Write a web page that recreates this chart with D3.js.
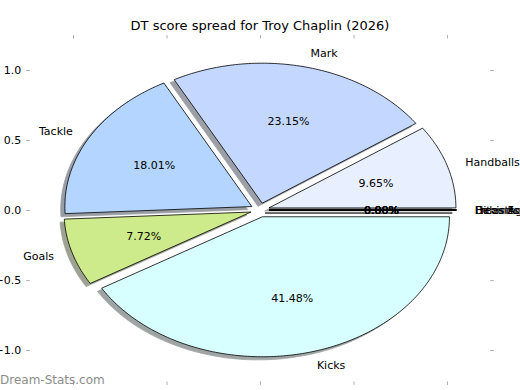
<!DOCTYPE html>
<html>
<head>
<meta charset="utf-8">
<script src="https://cdn.jsdelivr.net/npm/d3@7"></script>
<style>
  body { margin: 0; background: #fff; }
  svg { display: block; font-family: "DejaVu Sans", sans-serif; }
</style>
</head>
<body>
<div id="plot"></div>
<script>
// Chart values (percent of DT score).
var categories = ["Handballs", "Mark", "Tackle", "Goals", "Kicks", "Hitouts", "Behinds", "Frees For", "Frees Against"];
var values = [9.65, 23.15, 18.01, 7.72, 41.48, 0, 0, 0, 0];
var colors = ["#e8f0ff", "#c4d8ff", "#b3d5ff", "#cdeb8b", "#d8ffff", "#ffe0e0", "#ffe8c0", "#e0ffe0", "#f0e0ff"];
var tickValues = [-1.0, -0.5, 0.0, 0.5, 1.0];
var title = "DT score spread for Troy Chaplin (2026)";

var width = 520, height = 390;
var explode = 0.05, radius = 1, shadowOff = 0.02 * 80 / 72;

var svg = d3.select("#plot").append("svg")
	.attr("width", width)
	.attr("height", height);

// Data scales (the pie is drawn in data units, so it comes out as an ellipse).
var x = d3.scaleLinear().domain([-1.25, 1.25]).range([26.25, 493.75]);
var y = d3.scaleLinear().domain([-1.25, 1.25]).range([385, 35]);

// Build the wedges the way matplotlib does: counter clockwise from 0 degrees.
var total = d3.sum(values);
var pie = [];
var start = 0;
values.forEach(function(v, i) {
	var sweep = 360 * v / total;
	var mid = (start + sweep / 2) * Math.PI / 180;
	pie.push({
		label: categories[i],
		value: v,
		color: colors[i],
		t1: start,
		t2: start + sweep,
		cx: explode * Math.cos(mid),
		cy: explode * Math.sin(mid),
		mid: mid
	});
	start += sweep;
});

var line = d3.line().x(function(d) { return x(d[0]); }).y(function(d) { return y(d[1]); });

function wedge(cx, cy, t1, t2) {
	var pts = [[cx, cy]];
	var n = Math.max(2, Math.ceil(t2 - t1));
	for (var k = 0; k <= n; k++) {
		var a = (t1 + (t2 - t1) * k / n) * Math.PI / 180;
		pts.push([cx + radius * Math.cos(a), cy + radius * Math.sin(a)]);
	}
	return line(pts) + "Z";
}

function shade(c) {
	c = d3.rgb(c);
	return d3.rgb(c.r * 0.3, c.g * 0.3, c.b * 0.3);
}

// Shadows sit behind all the wedges.
svg.append("g")
	.selectAll("path")
	.data(pie)
	.enter()
	.append("path")
		.attr("d", function(d) { return wedge(d.cx - shadowOff, d.cy - shadowOff, d.t1, d.t2); })
		.attr("fill", function(d) { return shade(d.color); })
		.attr("stroke", function(d) { return shade(d.color); })
		.attr("stroke-width", 0.8)
		.attr("opacity", 0.5);

svg.append("g")
	.selectAll("path")
	.data(pie)
	.enter()
	.append("path")
		.attr("d", function(d) { return wedge(d.cx, d.cy, d.t1, d.t2); })
		.attr("fill", function(d) { return d.color; })
		.attr("stroke", "#000")
		.attr("stroke-width", 0.8);

// Labels at 1.1 and percentages at 0.6 from the exploded centre.
svg.append("g")
	.selectAll("text")
	.data(pie)
	.enter()
	.append("text")
		.attr("x", function(d) { return x(d.cx + 1.1 * Math.cos(d.mid)); })
		.attr("y", function(d) { return y(d.cy + 1.1 * Math.sin(d.mid)); })
		.attr("dy", "0.35em")
		.attr("text-anchor", function(d) { return Math.cos(d.mid) > 0 ? "start" : "end"; })
		.style("font-size", "11px")
		.text(function(d) { return d.label; });

svg.append("g")
	.selectAll("text")
	.data(pie)
	.enter()
	.append("text")
		.attr("x", function(d) { return x(d.cx + 0.6 * Math.cos(d.mid)); })
		.attr("y", function(d) { return y(d.cy + 0.6 * Math.sin(d.mid)); })
		.attr("dy", "0.35em")
		.attr("text-anchor", "middle")
		.style("font-size", "11px")
		.text(function(d) { return d.value.toFixed(2) + "%"; });

// Axes: ticks pointing inward on all four sides, no spines.
var fmt = d3.format(".1f");
function styleAxis(g) {
	g.select(".domain").remove();
	g.selectAll(".tick line").attr("stroke", "#b0b0b0");
	g.selectAll(".tick text").attr("fill", "#000").style("font-size", "11px").style("font-family", "DejaVu Sans");
}
svg.append("g")
	.attr("transform", "translate(" + x.range()[0] + ",0)")
	.call(d3.axisLeft(y).tickValues(tickValues).tickFormat(fmt).tickSize(-3.5).tickPadding(5))
	.call(styleAxis);
svg.append("g")
	.attr("transform", "translate(" + x.range()[1] + ",0)")
	.call(d3.axisRight(y).tickValues(tickValues).tickFormat("").tickSize(-3.5))
	.call(styleAxis);
svg.append("g")
	.attr("transform", "translate(0," + y.range()[1] + ")")
	.call(d3.axisTop(x).tickValues(tickValues).tickFormat("").tickSize(-3.5))
	.call(styleAxis);
svg.append("g")
	.attr("transform", "translate(0," + y.range()[0] + ")")
	.call(d3.axisBottom(x).tickValues(tickValues).tickFormat(fmt).tickSize(-3.5).tickPadding(5))
	.call(styleAxis);

// Title
svg.append("text")
	.attr("x", width / 2)
	.attr("y", 30)
	.attr("text-anchor", "middle")
	.style("font-size", "13px")
	.text(title);

// Watermark
svg.append("text")
	.attr("x", 0)
	.attr("y", 384)
	.attr("fill", "#8c8c8c")
	.style("font-size", "12px")
	.text("Dream-Stats.com");
</script>
</body>
</html>
